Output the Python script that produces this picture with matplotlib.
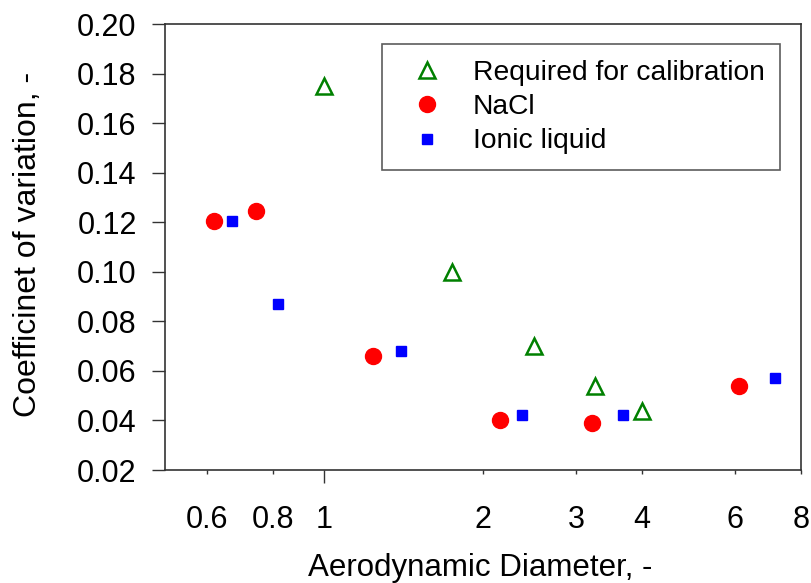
import matplotlib
matplotlib.use("Agg")
import matplotlib.pyplot as plt
from matplotlib.ticker import FixedLocator, FixedFormatter

plt.rcParams['font.family'] = ['Liberation Sans', 'DejaVu Sans']

# Calibration requirement
calib_d = [1.0, 1.75, 2.50, 3.26, 4.0]
calib_cv = [0.175, 0.100, 0.070, 0.054, 0.044]

# NaCl particles
nacl_d = [0.618, 0.743, 1.24, 2.15, 3.22, 6.10]
nacl_cv = [0.1205, 0.1245, 0.066, 0.040, 0.039, 0.054]

# Ionic liquid particles
il_d = [0.669, 0.818, 1.40, 2.37, 3.69, 7.14]
il_cv = [0.1205, 0.087, 0.068, 0.042, 0.042, 0.057]

minor_ticks = [0.6, 0.8, 2, 3, 4, 6, 8]
minor_labels = ['0.6', '0.8', '2', '3', '4', '6', '8']
y_ticks = [0.02, 0.04, 0.06, 0.08, 0.10, 0.12, 0.14, 0.16, 0.18, 0.20]

fig = plt.figure(figsize=(8.11, 5.83), dpi=100)
ax = fig.add_axes([165 / 811, 113 / 583, 636 / 811, 446 / 583])

ax.plot(calib_d, calib_cv, linestyle='none', marker='^', markersize=11.5,
        markerfacecolor='white', markeredgecolor='#008000', markeredgewidth=1.8,
        label='Required for calibration')
ax.plot(nacl_d, nacl_cv, linestyle='none', marker='o', markersize=11.5,
        markerfacecolor='#ff0000', markeredgecolor='#ff0000', label='NaCl')
ax.plot(il_d, il_cv, linestyle='none', marker='s', markersize=7.8,
        markerfacecolor='#0000ff', markeredgecolor='#0000ff', label='Ionic liquid')

ax.set_xscale('log')
ax.set_xlim(0.5, 8.0)
ax.set_ylim(0.02, 0.20)

ax.xaxis.set_major_locator(FixedLocator([1]))
ax.xaxis.set_major_formatter(FixedFormatter(['1']))
ax.xaxis.set_minor_locator(FixedLocator(minor_ticks))
ax.xaxis.set_minor_formatter(FixedFormatter(minor_labels))
ax.tick_params(axis='x', which='major', length=9.4, width=1, direction='out',
               pad=16, labelsize=22, color='#333333')
ax.tick_params(axis='x', which='minor', length=2.9, width=1, direction='out',
               pad=22.5, labelsize=22, color='#333333')

ax.set_yticks(y_ticks)
ax.set_yticklabels([f'{v:.2f}' for v in y_ticks])
ax.tick_params(axis='y', which='major', length=9.4, width=1, direction='out',
               pad=11, labelsize=22, color='#333333')

for side in ['left', 'right', 'top', 'bottom']:
    ax.spines[side].set_color('#333333')
    ax.spines[side].set_linewidth(1.2)

ax.set_xlabel('Aerodynamic Diameter, -', fontsize=22.5)
ax.set_ylabel('Coefficinet of variation, -', fontsize=23)
ax.xaxis.set_label_coords(0.495, -0.186)
ax.yaxis.set_label_coords(-0.1926, 0.505)

leg = ax.legend(loc='upper right', bbox_to_anchor=(0.967, 0.955), fontsize=20.3,
                frameon=True, fancybox=False, borderpad=0.55, handletextpad=0.57,
                labelspacing=0.3, handlelength=2.09, borderaxespad=0.0)
leg.get_frame().set_edgecolor('#333333')
leg.get_frame().set_linewidth(1.2)

fig.savefig('out.png', dpi=100)
